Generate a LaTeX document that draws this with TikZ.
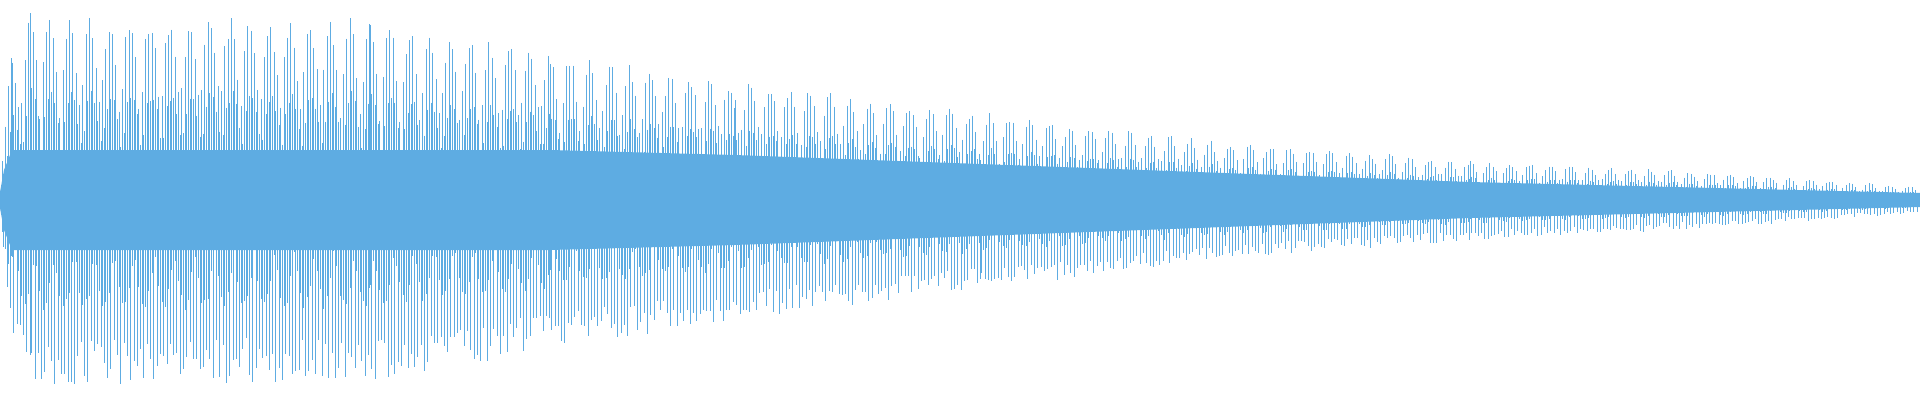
\documentclass[tikz,border=0pt]{standalone}
\definecolor{wave}{RGB}{94,172,226}
\begin{document}
\begin{tikzpicture}[x=1pt,y=-1pt,spike/.style={draw=wave,line width=0.9pt}]
\useasboundingbox (0,0) rectangle (1920,400);
\pgfmathsetseed{7}
\fill[wave] (0,192) -- (4,170) -- (12,150) -- (30,150) -- (550,150) -- (735,155) -- (980,164) -- (1224,173) -- (1470,182) -- (1714,188) -- (1920,193)
 -- (1920,207) -- (1714,212) -- (1470,218) -- (1224,227) -- (980,236) -- (735,245) -- (550,250) -- (30,250) -- (12,250) -- (4,230) -- (0,208) -- cycle;
\foreach \xa/\aa/\xb/\ab in {2/60/12/150, 12/150/30/187, 30/187/370/182, 370/182/550/150, 550/150/735/120, 735/120/980/89, 980/89/1224/59, 1224/59/1470/40, 1470/40/1714/28, 1714/28/1920/13}{
  \pgfmathsetmacro\xs{\xa+3.3}
  \foreach \x in {\xa,\xs,...,\xb}{
    \pgfmathsetmacro\A{\aa+(\ab-\aa)*(\x-\xa)/(\xb-\xa)}
    \pgfmathsetmacro\ph{mod(\x,360)*9}
    \pgfmathsetmacro\t{\A*(0.5+0.5*abs(sin(\ph))+0.1*rnd-0.1)}
    \pgfmathsetmacro\b{\A*(0.5+0.5*abs(sin(\ph+50))+0.1*rnd-0.1)}
    \pgfmathsetmacro\u{\A*(0.75+0.25*rnd)}
    \draw[spike] (\x,200-\t) -- (\x,200+0.6*\b);
    \draw[spike] (\x+1.65,200-0.6*\t) -- (\x+1.65,200+\u);
  }
}
\end{tikzpicture}
\end{document}
